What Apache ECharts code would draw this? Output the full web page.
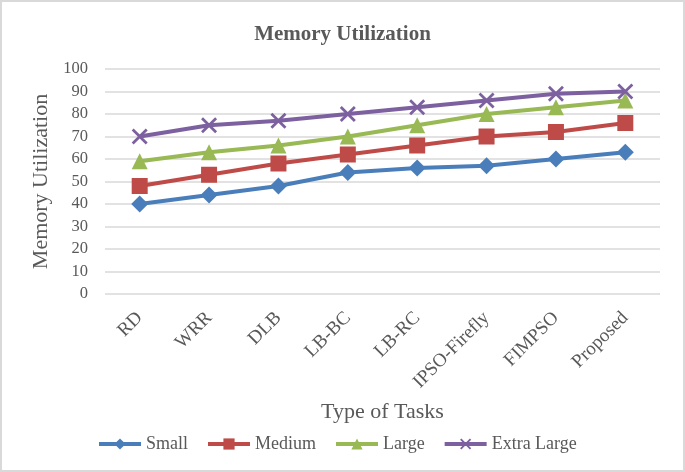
<!DOCTYPE html>
<html>
<head>
<meta charset="utf-8">
<script src="https://cdn.jsdelivr.net/npm/echarts@6/dist/echarts.min.js"></script>
<style>
html,body{margin:0;padding:0;background:#fff;}
#wrap{width:685px;height:472px;box-sizing:border-box;border:2px solid #d9d9d9;position:relative;overflow:hidden;}
#chart{position:absolute;left:-2px;top:-2px;width:685px;height:472px;}
</style>
</head>
<body>
<div id="wrap"><div id="chart"></div></div>
<script>
const categories = ['RD','WRR','DLB','LB-BC','LB-RC','IPSO-Firefly','FIMPSO','Proposed'];
const small = [40,44,48,54,56,57,60,63];
const medium = [48,53,58,62,66,70,72,76];
const large = [59,63,66,70,75,80,83,86];
const extraLarge = [70,75,77,80,83,86,89,90];
const seriesNames = ['Small','Medium','Large','Extra Large'];

const font = "'Liberation Serif','Times New Roman',serif";
const txt = '#595959';
const crossPath = 'path://M0,1.2 L1.2,0 L5,3.8 L8.8,0 L10,1.2 L6.2,5 L10,8.8 L8.8,10 L5,6.2 L1.2,10 L0,8.8 L3.8,5 Z';

function mk(name, data, color, symbol, size){
  return {
    name, type:'line', data, symbol, symbolSize:size,
    lineStyle:{color, width:4},
    itemStyle:{color},
    emphasis:{disabled:true}
  };
}

const chart = echarts.init(document.getElementById('chart'));
chart.setOption({
  animation:false,
  backgroundColor:'transparent',
  title:{text:'Memory Utilization', left:'center', top:19,
    textStyle:{fontFamily:font, fontSize:21, fontWeight:'bold', color:txt}},
  grid:{left:105, right:25, top:69, bottom:178},
  legend:{top:430, left:92, itemWidth:42, itemHeight:14, itemGap:18,
    lineStyle:{width:4},
    textStyle:{fontFamily:font, fontSize:18, color:txt},
    data:seriesNames},
  xAxis:{type:'category', data:categories, boundaryGap:true,
    name:'Type of Tasks', nameLocation:'middle', nameGap:107,
    nameTextStyle:{fontFamily:font, fontSize:22, color:txt},
    axisLine:{show:false}, axisTick:{show:false},
    axisLabel:{rotate:45, margin:21, interval:0, fontFamily:font, fontSize:19, color:txt}},
  yAxis:{type:'value', min:0, max:100, interval:10,
    name:'Memory Utilization', nameLocation:'middle', nameGap:52,
    nameTextStyle:{fontFamily:font, fontSize:22, color:txt},
    axisLine:{show:false}, axisTick:{show:false},
    axisLabel:{margin:17, fontFamily:font, fontSize:16.5, color:txt},
    splitLine:{lineStyle:{color:'#d9d9d9', width:1.5}}},
  series:[
    mk(seriesNames[0], small, '#4a7ebb', 'diamond', 17),
    mk(seriesNames[1], medium, '#be4b48', 'rect', 16),
    mk(seriesNames[2], large, '#98b954', 'triangle', 16),
    mk(seriesNames[3], extraLarge, '#7d60a0', crossPath, 16)
  ]
});
</script>
</body>
</html>
